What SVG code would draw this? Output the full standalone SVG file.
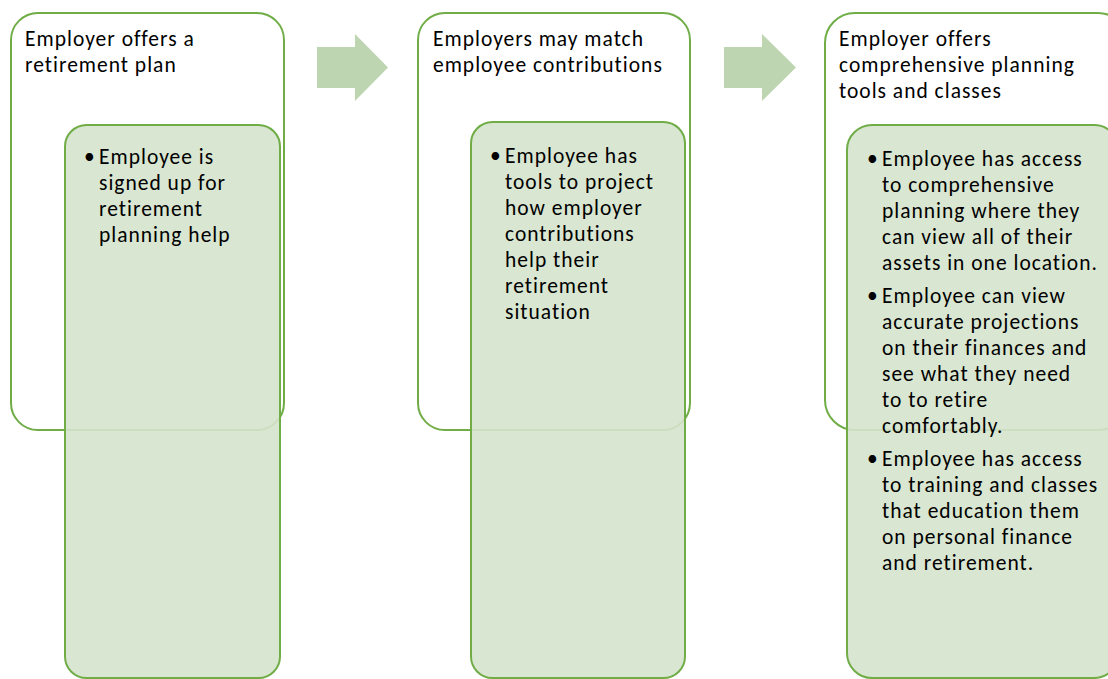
<svg xmlns="http://www.w3.org/2000/svg" width="1108" height="679" viewBox="0 0 1108 679">
  <style>
    .outer { fill: #FFFFFF; stroke: #70AD47; stroke-width: 2; }
    .inner { fill: #D5E3CC; fill-opacity: 0.9; stroke: #70AD47; stroke-width: 2; }
    .arrow { fill: #BDD6B1; }
    text { font-family: Carlito, Calibri, Lato, sans-serif; font-size: 21.5px; letter-spacing: 1px; fill: #000000; }
    .dot { letter-spacing: 0; }
  </style>
  <rect width="1108" height="679" fill="#FFFFFF"/>

  <!-- step 1 -->
  <g id="step1">
    <rect class="outer" x="11" y="13" width="273" height="417" rx="27" ry="27"/>
    <text x="25" y="46">Employer offers a</text>
    <text x="25" y="72">retirement plan</text>
  </g>
  <g id="detail1">
    <rect class="inner" x="65" y="125" width="215" height="553" rx="21.5" ry="21.5"/>
    <text class="dot" x="84" y="164">•</text>
    <text x="99" y="164">Employee is</text>
    <text x="99" y="190">signed up for</text>
    <text x="99" y="216">retirement</text>
    <text x="99" y="242">planning help</text>
  </g>

  <!-- step 2 -->
  <g id="step2">
    <rect class="outer" x="418" y="13" width="272" height="417" rx="27" ry="27"/>
    <text x="433" y="46">Employers may match</text>
    <text x="433" y="72">employee contributions</text>
  </g>
  <g id="detail2">
    <rect class="inner" x="471" y="122" width="214" height="556" rx="21.5" ry="21.5"/>
    <text class="dot" x="490" y="163">•</text>
    <text x="505" y="163">Employee has</text>
    <text x="505" y="189">tools to project</text>
    <text x="505" y="215">how employer</text>
    <text x="505" y="241">contributions</text>
    <text x="505" y="267">help their</text>
    <text x="505" y="293">retirement</text>
    <text x="505" y="319">situation</text>
  </g>

  <!-- step 3 -->
  <g id="step3">
    <rect class="outer" x="825" y="13" width="303" height="417" rx="30" ry="30"/>
    <text x="839" y="46">Employer offers</text>
    <text x="839" y="72">comprehensive planning</text>
    <text x="839" y="98">tools and classes</text>
  </g>
  <g id="detail3">
    <rect class="inner" x="847" y="125" width="272" height="553" rx="25" ry="25"/>
    <text class="dot" x="867" y="166">•</text>
    <text x="882" y="166">Employee has access</text>
    <text x="882" y="192">to comprehensive</text>
    <text x="882" y="218">planning where they</text>
    <text x="882" y="244">can view all of their</text>
    <text x="882" y="270">assets in one location.</text>
    <text class="dot" x="867" y="303">•</text>
    <text x="882" y="303">Employee can view</text>
    <text x="882" y="329">accurate projections</text>
    <text x="882" y="355">on their finances and</text>
    <text x="882" y="381">see what they need</text>
    <text x="882" y="407">to to retire</text>
    <text x="882" y="433">comfortably.</text>
    <text class="dot" x="867" y="466">•</text>
    <text x="882" y="466">Employee has access</text>
    <text x="882" y="492">to training and classes</text>
    <text x="882" y="518">that education them</text>
    <text x="882" y="544">on personal finance</text>
    <text x="882" y="570">and retirement.</text>
  </g>

  <!-- block arrows between steps -->
  <g id="connectors">
    <polygon class="arrow" points="317,47 355,47 355,34 388,67.5 355,101 355,88 317,88"/>
    <polygon class="arrow" points="724,47 762,47 762,34 796,67.5 762,101 762,88 724,88"/>
  </g>
</svg>
